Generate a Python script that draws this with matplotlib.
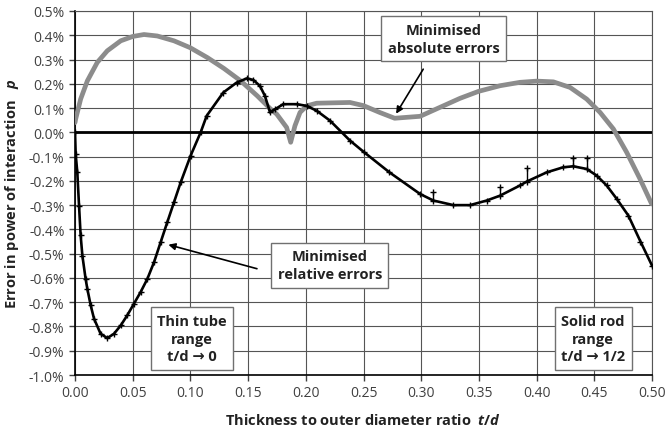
import numpy as np
import matplotlib
matplotlib.use("Agg")
import matplotlib.pyplot as plt
from matplotlib.ticker import FuncFormatter, MultipleLocator

plt.rcParams['font.family'] = ['Open Sans', 'DejaVu Sans']
plt.rcParams['mathtext.fontset'] = 'custom'
plt.rcParams['mathtext.it'] = 'Open Sans:bold:italic'
plt.rcParams['mathtext.rm'] = 'Open Sans:bold'

# Minimised absolute errors (grey), values in %
abs_t = [0, 0.0006, 0.0049, 0.0107, 0.0193, 0.028, 0.0396, 0.05, 0.0598, 0.0713,
         0.0858, 0.0997, 0.1147, 0.1291, 0.1436, 0.158, 0.1695, 0.1748, 0.1834,
         0.1869, 0.1906, 0.195, 0.2008, 0.2094, 0.2383, 0.25, 0.264, 0.277,
         0.299, 0.3163, 0.3336, 0.3498, 0.3683, 0.3856, 0.40, 0.4145, 0.429,
         0.4434, 0.455, 0.4665, 0.478, 0.4896, 0.4997]
abs_v = [0.04, 0.055, 0.137, 0.212, 0.288, 0.336, 0.377, 0.395, 0.403, 0.397,
         0.377, 0.349, 0.308, 0.263, 0.212, 0.15, 0.096, 0.075, 0.02,
         -0.041, 0.027, 0.082, 0.109, 0.12, 0.123, 0.11, 0.082, 0.058,
         0.066, 0.103, 0.14, 0.169, 0.192, 0.206, 0.211, 0.208, 0.185,
         0.137, 0.082, 0.014, -0.082, -0.192, -0.295]

# Minimised relative errors (black), values in %
rel_t = [0, 0.0006, 0.002, 0.0035, 0.0049, 0.0064, 0.0092, 0.0107, 0.0136, 0.0165,
         0.0222, 0.028, 0.0338, 0.0396, 0.0453, 0.0511, 0.0569, 0.0627, 0.0685,
         0.0742, 0.08, 0.0858, 0.0916, 0.1002, 0.1089, 0.1141, 0.1285, 0.1401,
         0.1488, 0.1545, 0.1603, 0.1646, 0.169, 0.1733, 0.1805, 0.1921, 0.2008,
         0.2094, 0.221, 0.2383, 0.25, 0.2725, 0.299, 0.3105, 0.3279, 0.3423,
         0.3568, 0.3683, 0.3856, 0.3914, 0.4087, 0.4231, 0.4318, 0.4434, 0.452,
         0.4607, 0.4694, 0.4795, 0.49, 0.5]
rel_v = [0.0, -0.09, -0.165, -0.302, -0.425, -0.508, -0.604, -0.645, -0.713, -0.768,
         -0.83, -0.848, -0.83, -0.796, -0.754, -0.706, -0.658, -0.604, -0.535,
         -0.453, -0.37, -0.288, -0.206, -0.096, 0.0, 0.068, 0.164, 0.205,
         0.222, 0.216, 0.191, 0.15, 0.082, 0.095, 0.116, 0.116, 0.109,
         0.089, 0.048, -0.034, -0.08, -0.165, -0.254, -0.281, -0.30, -0.30,
         -0.281, -0.261, -0.219, -0.203, -0.165, -0.144, -0.14, -0.151, -0.178,
         -0.219, -0.274, -0.343, -0.45, -0.549]

# Outlier spikes on relative curve
spike_t = [0.3105, 0.3683, 0.3914, 0.4318, 0.4434]
spike_base = [-0.281, -0.261, -0.203, -0.14, -0.151]
spike_top = [-0.247, -0.226, -0.148, -0.106, -0.106]

fig = plt.figure(figsize=(6.66, 4.31), dpi=100)
ax = fig.add_axes([0.1126, 0.1276, 0.8664, 0.8446])

ax.set_xlim(0, 0.5)
ax.set_ylim(-1.0, 0.5)
ax.xaxis.set_major_locator(MultipleLocator(0.05))
ax.yaxis.set_major_locator(MultipleLocator(0.1))
ax.xaxis.set_major_formatter(FuncFormatter(lambda v, p: f"{v:.2f}"))
ax.yaxis.set_major_formatter(FuncFormatter(lambda v, p: f"{v:.1f}%"))
ax.grid(True, color='#555555', lw=0.8)
ax.set_axisbelow(True)
ax.tick_params(direction='out', length=4, width=1, colors='#404040', labelsize=10,
               labelcolor='#404040')
for s in ax.spines.values():
    s.set_color('#555555')
    s.set_linewidth(0.8)
ax.spines['left'].set_color('black')
ax.spines['left'].set_linewidth(1.2)
ax.spines['bottom'].set_color('black')
ax.spines['bottom'].set_linewidth(1.2)

ax.axhline(0, color='black', lw=2, zorder=2)

ax.plot(abs_t, abs_v, color='#8c8c8c', lw=3.4, zorder=3,
        solid_capstyle='round', solid_joinstyle='round')
ax.plot(rel_t, rel_v, color='black', lw=1.9, marker='+', ms=4, mew=1, zorder=4,
        solid_joinstyle='round')
ax.vlines(spike_t, spike_base, spike_top, color='black', lw=1, zorder=4)
ax.plot(spike_t, spike_top, ls='none', marker='+', ms=4, mew=1, color='black', zorder=4)

ax.set_xlabel("Thickness to outer diameter ratio  $t/d$", fontsize=10.5,
              fontweight='bold', color='#222222', labelpad=8)
ax.set_ylabel("Error in power of interaction   $p$", fontsize=10.5,
              fontweight='bold', color='#222222', labelpad=6)

box = dict(boxstyle='square,pad=0.45', fc='white', ec='#707070', lw=1)
tkw = dict(ha='center', va='center', fontsize=10.5, fontweight='bold',
           color='#222222', bbox=box, zorder=6, linespacing=1.35)

ax.text(0.3196, 0.385, "Minimised\nabsolute errors", **tkw)
ax.annotate("", xy=(0.277, 0.067), xytext=(0.303, 0.27),
            arrowprops=dict(arrowstyle='-|>', color='black', lw=1.2,
                            mutation_scale=10), zorder=5)

ax.text(0.2207, -0.548, "Minimised\nrelative errors", **tkw)
ax.annotate("", xy=(0.0786, -0.46), xytext=(0.160, -0.565),
            arrowprops=dict(arrowstyle='-|>', color='black', lw=1.2,
                            mutation_scale=10), zorder=5)

ax.text(0.1014, -0.85, "Thin tube\nrange\nt/d \u2192 0", **tkw)
ax.text(0.449, -0.85, "Solid rod\nrange\nt/d \u2192 1/2", **tkw)

fig.savefig("out.png", dpi=100)
